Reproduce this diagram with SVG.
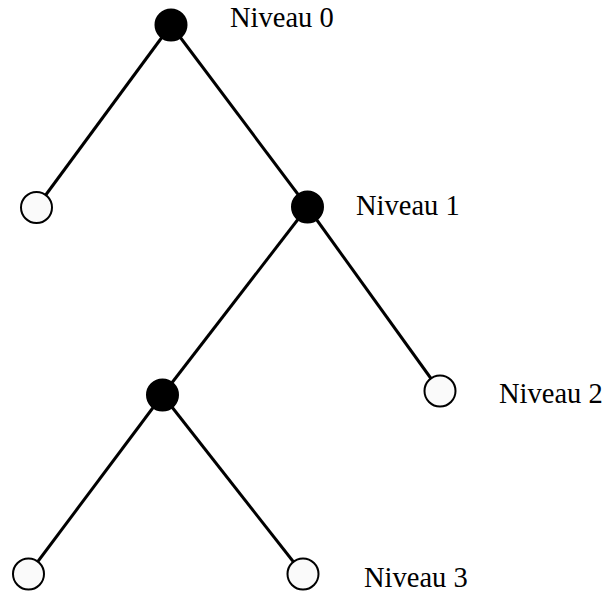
<svg xmlns="http://www.w3.org/2000/svg" width="605" height="595" viewBox="0 0 605 595">
<style>
.e{stroke:#000;stroke-width:3;fill:none}
.f{fill:#000;stroke:#000;stroke-width:2}
.o{fill:#fafafa;stroke:#000;stroke-width:2}
.t{font-family:"Liberation Serif",serif;font-size:28.5px;fill:#000}
</style>
<rect width="605" height="595" fill="#fff"/>
<g id="edges">
<line class="e" x1="171" y1="25" x2="36.5" y2="207.5"/>
<line class="e" x1="171" y1="25" x2="307.5" y2="207"/>
<line class="e" x1="307.5" y1="207" x2="162.5" y2="395"/>
<line class="e" x1="307.5" y1="207" x2="440" y2="391"/>
<line class="e" x1="162.5" y1="395" x2="28.5" y2="574"/>
<line class="e" x1="162.5" y1="395" x2="303" y2="574"/>
</g>
<g id="n0"><circle class="f" cx="171" cy="25" r="15.5"/></g>
<g id="n1l"><circle class="o" cx="36.5" cy="207.5" r="15.5"/></g>
<g id="n1"><circle class="f" cx="307.5" cy="207" r="15.5"/></g>
<g id="n2"><circle class="f" cx="162.5" cy="395" r="15.5"/></g>
<g id="n2r"><circle class="o" cx="440" cy="391" r="15.5"/></g>
<g id="n3l"><circle class="o" cx="28.5" cy="574" r="15.5"/></g>
<g id="n3r"><circle class="o" cx="303" cy="574" r="15.5"/></g>
<g id="labels">
<text class="t" x="230" y="27">Niveau 0</text>
<text class="t" x="356" y="215">Niveau 1</text>
<text class="t" x="499" y="403">Niveau 2</text>
<text class="t" x="364" y="587">Niveau 3</text>
</g>
</svg>
